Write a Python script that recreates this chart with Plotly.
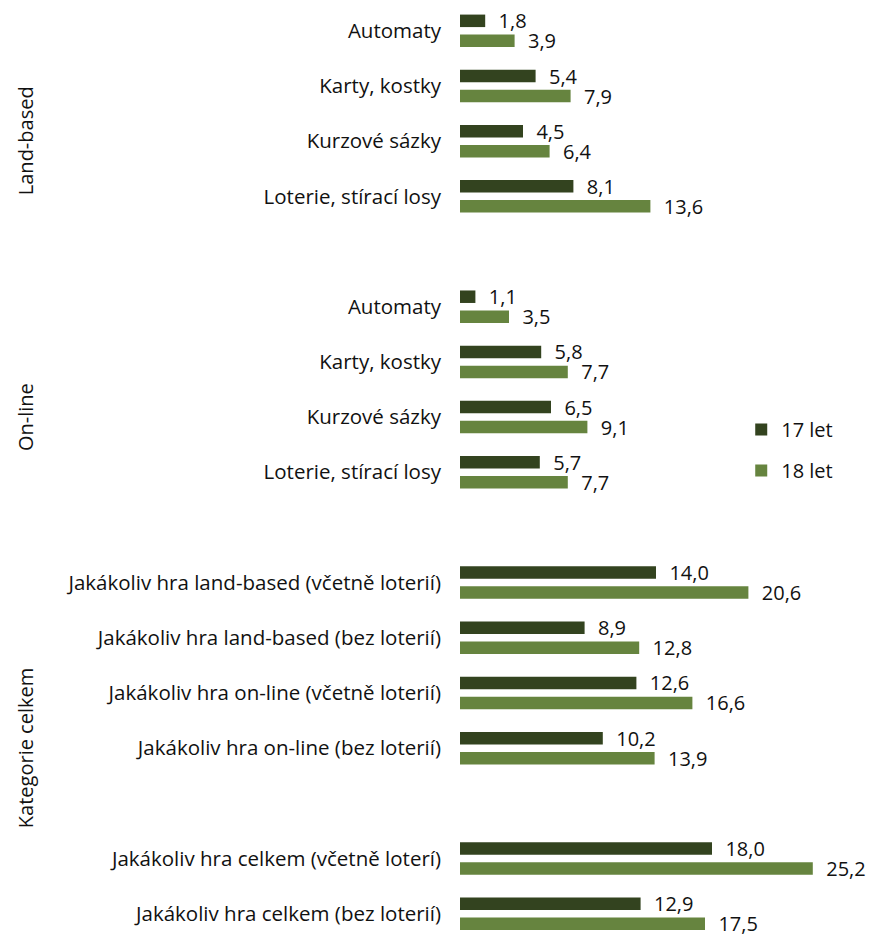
import plotly.graph_objects as go

# ---- data ----
land_categories = ["Automaty", "Karty, kostky", "Kurzové sázky", "Loterie, stírací losy"]
land_17 = [1.8, 5.4, 4.5, 8.1]
land_18 = [3.9, 7.9, 6.4, 13.6]

online_categories = ["Automaty", "Karty, kostky", "Kurzové sázky", "Loterie, stírací losy"]
online_17 = [1.1, 5.8, 6.5, 5.7]
online_18 = [3.5, 7.7, 9.1, 7.7]

any_categories = [
    "Jakákoliv hra land-based (včetně loterií)",
    "Jakákoliv hra land-based (bez loterií)",
    "Jakákoliv hra on-line (včetně loterií)",
    "Jakákoliv hra on-line (bez loterií)",
]
any_17 = [14.0, 8.9, 12.6, 10.2]
any_18 = [20.6, 12.8, 16.6, 13.9]

total_categories = ["Jakákoliv hra celkem (včetně loterí)", "Jakákoliv hra celkem (bez loterií)"]
total_17 = [18.0, 12.9]
total_18 = [25.2, 17.5]

series_names = ["17 let", "18 let"]
group_names = ["Land-based", "On-line", "Kategorie celkem"]

# ---- layout of slots (blank slot between blocks) ----
blocks = [
    (land_categories, land_17, land_18, 0),
    (online_categories, online_17, online_18, 1),
    (any_categories, any_17, any_18, 2),
    (total_categories, total_17, total_18, 2),
]
pos, labels, v17, v18 = [], [], [], []
group_pos = {0: [], 1: [], 2: []}
slot = 0
for cats, a, b, g in blocks:
    for c, x1, x2 in zip(cats, a, b):
        pos.append(slot)
        labels.append(c)
        v17.append(x1)
        v18.append(x2)
        group_pos[g].append(slot)
        slot += 1
    slot += 1

def fmt(v):
    return "\u00a0\u00a0" + f"{v:.1f}".replace(".", ",")

FONT = "Open Sans, Noto Sans, sans-serif"
FS = 20.5
c17 = "#33431f"
c18 = "#66843f"

fig = go.Figure()
for name, vals, col, lg in [(series_names[0], v17, c17, "a"), (series_names[1], v18, c18, "b")]:
    fig.add_trace(go.Bar(y=pos, x=vals, orientation="h", name=name,
                         marker=dict(color=col, line=dict(width=0)),
                         text=[fmt(v) for v in vals], textposition="outside",
                         constraintext="none", cliponaxis=False, legendgroup=lg,
                         textfont=dict(size=20, color="#111111", family=FONT)))

# group labels: each spans its block(s) up to the next group's start
starts = [min(group_pos[g]) for g in range(3)]
for g, name in enumerate(group_names):
    lo = starts[g]
    hi = starts[g + 1] - 1 if g + 1 < 3 else max(group_pos[g])
    center = (lo + hi) / 2
    fig.add_annotation(x=0, xref="paper", xshift=-435, y=center, yref="y",
                       text=name, textangle=-90, showarrow=False,
                       font=dict(size=20, family=FONT, color="#111111"),
                       xanchor="center", yanchor="middle")

fig.update_layout(
    width=869, height=936,
    margin=dict(l=460, r=31, t=6, b=3, autoexpand=False),
    paper_bgcolor="white", plot_bgcolor="white",
    barmode="group", bargap=0.275, bargroupgap=0.375,
    font=dict(family=FONT, size=20, color="#111111"),
    showlegend=True,
    legend=dict(x=0.744, y=0.521, xanchor="left", yanchor="middle",
                traceorder="grouped", tracegroupgap=12,
                font=dict(size=20, family=FONT, color="#111111"),
                bgcolor="rgba(0,0,0,0)"),
    xaxis=dict(range=[0, 27], showgrid=False, zeroline=False, showline=False,
               showticklabels=False, ticks="", automargin=False),
    yaxis=dict(range=[16.35, -0.45], tickmode="array", tickvals=pos, ticktext=labels,
               showgrid=False, zeroline=False, showline=False, ticks="",
               ticklabelstandoff=18, automargin=False,
               tickfont=dict(size=FS, family=FONT, color="#111111")),
)

fig.write_html("out.html", config={"displayModeBar": False},
               post_script="document.body.style.margin='0';")
